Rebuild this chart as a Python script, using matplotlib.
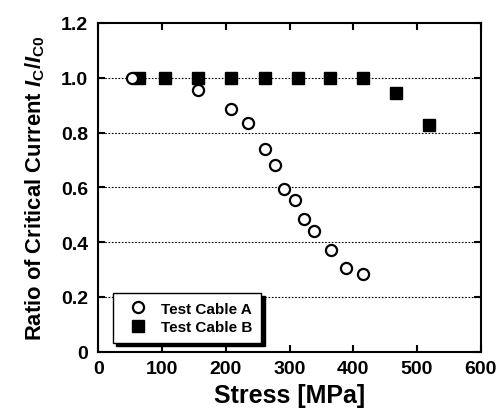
import matplotlib
matplotlib.use("Agg")
import matplotlib.pyplot as plt
from matplotlib import font_manager

plt.rcParams['font.family'] = ['Liberation Sans', 'DejaVu Sans']
plt.rcParams['font.weight'] = 'bold'
plt.rcParams['mathtext.fontset'] = 'custom'
plt.rcParams['mathtext.rm'] = 'Liberation Sans:bold'
plt.rcParams['mathtext.it'] = 'Liberation Sans:bold:italic'
plt.rcParams['mathtext.bf'] = 'Liberation Sans:bold'

stress_a = [53, 157, 208, 235, 262, 277, 292, 308, 323, 339, 365, 389, 416]
ratio_a = [1.0, 0.955, 0.886, 0.835, 0.741, 0.682, 0.594, 0.553, 0.483, 0.441, 0.371, 0.306, 0.285]
stress_b = [64, 105, 156, 208, 261, 313, 364, 415, 467, 519]
ratio_b = [1.0, 1.0, 1.0, 1.0, 1.0, 1.0, 1.0, 1.0, 0.944, 0.826]
xticks = [0, 100, 200, 300, 400, 500, 600]
yticks = [0, 0.2, 0.4, 0.6, 0.8, 1.0, 1.2]
ytick_labels = ['0', '0.2', '0.4', '0.6', '0.8', '1.0', '1.2']

names = {f.name for f in font_manager.fontManager.ttflist}
if 'Liberation Sans Narrow' in names:
    tick_family, tick_size = ['Liberation Sans Narrow', 'Liberation Sans'], 14.5
else:
    tick_family, tick_size = ['Liberation Sans'], 14

fig = plt.figure(figsize=(5.04, 4.10), dpi=100)
ax = fig.add_axes([98.3/504, 1 - 352.7/410, (480.7-98.3)/504, (352.7-24)/410])

for y in yticks[1:-1]:
    ax.axhline(y, color='black', lw=0.8, ls=(0, (1.5, 1.5)), zorder=1)

ax.plot(stress_a, ratio_a, 'o', ms=8, mfc='white', mec='black', mew=1.6, ls='none',
        label='Test Cable A', zorder=3)
ax.plot(stress_b, ratio_b, 's', ms=8.3, mfc='black', mec='black', ls='none',
        label='Test Cable B', zorder=2)

ax.set_xlim(0, 600)
ax.set_ylim(0, 1.2)
ax.set_xticks(xticks)
ax.set_xticklabels([str(v) for v in xticks], family=tick_family, fontsize=tick_size, fontweight='bold')
ax.set_yticks(yticks)
ax.set_yticklabels(ytick_labels, family=tick_family, fontsize=tick_size, fontweight='bold')
ax.tick_params(direction='in', length=5, width=1.5, top=True, right=True)
ax.tick_params(axis='x', pad=6)
ax.tick_params(axis='y', pad=7.5)
for s in ax.spines.values():
    s.set_linewidth(1.5)

ax.set_xlabel('Stress [MPa]', fontsize=18, fontweight='bold', labelpad=4)
ax.set_ylabel(r'Ratio of Critical Current $\mathit{I}_\mathrm{C}/\mathit{I}_\mathrm{C0}$',
              fontsize=15.8, fontweight='bold', labelpad=10)

leg = ax.legend(loc='lower left', bbox_to_anchor=(0.0377, 0.0265), fontsize=11,
                frameon=True, fancybox=False,
                shadow={'color': 'black', 'alpha': 1, 'ox': 2.5, 'oy': -2.5},
                borderpad=0.58, handletextpad=0.39, labelspacing=0.3, handlelength=2.2,
                borderaxespad=0)
leg.get_frame().set_edgecolor('black')
leg.get_frame().set_linewidth(1.0)
for t in leg.get_texts():
    t.set_fontweight('bold')

fig.savefig('out.png', dpi=100)
